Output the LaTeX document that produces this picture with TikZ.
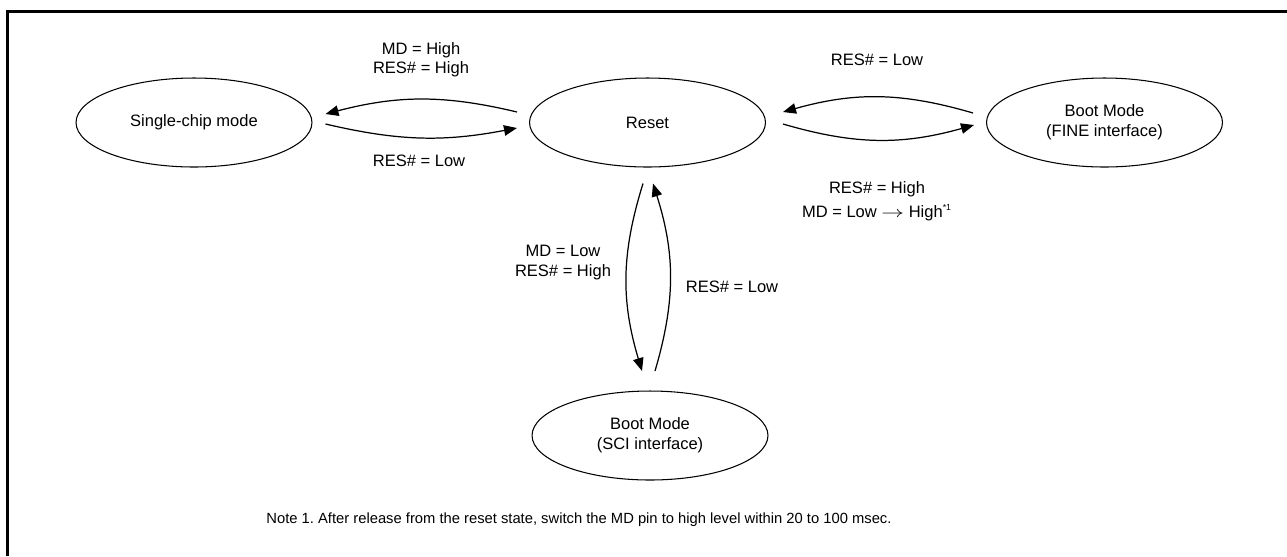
\documentclass[tikz,border=0pt]{standalone}
\usepackage{fontspec}
\setmainfont{Liberation Sans}
\usetikzlibrary{shapes.geometric,arrows.meta,calc}
\begin{document}
\begin{tikzpicture}[x=0.02cm, y=-0.02cm,
    state/.style={ellipse,draw,line width=0.6pt,minimum width=4.72cm,minimum height=1.78cm,align=center,font=\fontsize{9.4}{11.5}\selectfont},
    arr/.style={line width=0.7pt,-{Triangle[length=2.6mm,width=2.1mm]}},
    lbl/.style={align=center,font=\fontsize{9.4}{11}\selectfont}]
          \useasboundingbox (0,0) rectangle (1287,556);
          \draw[line width=1.7pt] (7.5,556) |- (1287,11.5);
          % States
          \node[state] (single) at (194,122.5) {Single-chip mode};
          \node[state] (reset) at (647.5,122.5) {Reset};
          \node[state] (fine) at (1104.5,122.5) {Boot Mode\\(FINE interface)};
          \node[state] (sci) at (650,435.5) {Boot Mode\\(SCI interface)};
          % Single-chip <-> Reset
          \draw[arr] ($(reset.west)+(-12,-10.5)$) to[bend right=14] ($(single.east)+(13,-8.5)$);
          \draw[arr] ($(single.east)+(13,1.5)$) to[bend right=12] ($(reset.west)+(-12,5.5)$);
          % Reset <-> Boot Mode (FINE)
          \draw[arr] ($(fine.west)+(-13,-9.5)$) to[bend right=16] ($(reset.east)+(17,-10.5)$);
          \draw[arr] ($(reset.east)+(17,1.5)$) to[bend right=16] ($(fine.west)+(-12,2.5)$);
          % Reset <-> Boot Mode (SCI)
          \draw[arr] ($(reset.south)+(-4.5,16)$) to[bend right=17] ($(sci.north)+(-8,-19.5)$);
          \draw[arr] ($(sci.north)+(5,-19.5)$) to[bend right=17] ($(reset.south)+(5.5,16)$);
          % Labels
          \node[lbl] (tosingle) at (421,59.5) {MD = High\\RES\# = High};
          \node[lbl] (fromsingle) at (419,161) {RES\# = Low};
          \node[lbl] (fromfine) at (877,60) {RES\# = Low};
          \node[lbl] (tofine) at (877,201) {RES\# = High\\[2.5pt]MD = Low \scalebox{1.4}[1]{$\rightarrow$} High\textsuperscript{\fontsize{5}{6}\selectfont *1}};
          \node[lbl] (tosci) at (563,262.5) {MD = Low\\RES\# = High};
          \node[lbl] (fromsci) at (732,287) {RES\# = Low};
          \node[lbl,font=\fontsize{8.4}{10}\selectfont] (note) at (579,520) {Note 1.\ After release from the reset state, switch the MD pin to high level within 20 to 100 msec.};
        \end{tikzpicture}
\end{document}
